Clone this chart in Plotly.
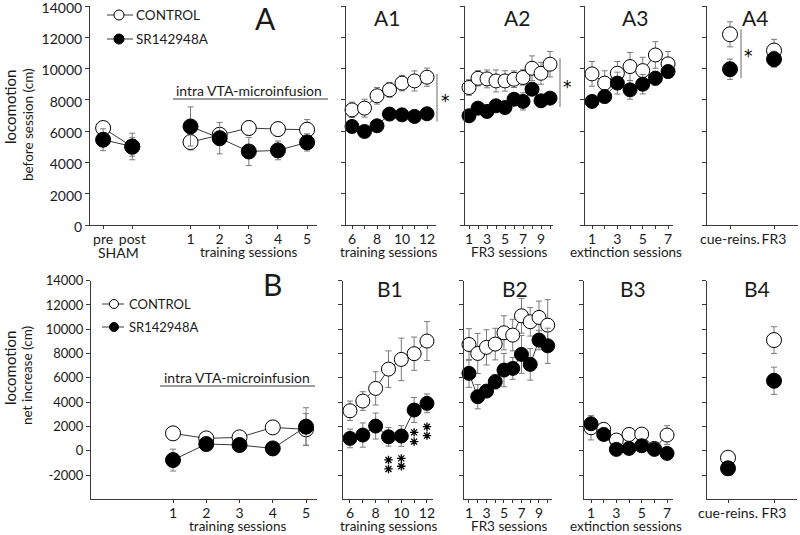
import plotly.graph_objects as go

# ---------------- data ----------------
A_CATS = ["pre", "post", " ", "1", "2", "3", "4", "5"]
SHAM_CATS = ["pre", "post"]
A_TRAIN_CATS = ["1", "2", "3", "4", "5"]
A_CTRL_SHAM = [6200, 5000]
A_CTRL_SHAM_ERR = [350, 600]
A_SR_SHAM = [5450, 5020]
A_SR_SHAM_ERR = [700, 850]
A_CTRL_TRAIN = [5300, 5770, 6200, 6130, 6090]
A_CTRL_TRAIN_ERR = [500, 400, 450, 450, 650]
A_SR_TRAIN = [6300, 5550, 4700, 4770, 5280]
A_SR_TRAIN_ERR = [1250, 1000, 900, 600, 550]

A1_SESS = [6, 7, 8, 9, 10, 11, 12]
A1_CTRL = [7360, 7470, 8260, 8640, 9070, 9210, 9450]
A1_CTRL_ERR = [490, 570, 530, 470, 490, 640, 580]
A1_SR = [6300, 5980, 6340, 7090, 7040, 6940, 7110]
A1_SR_ERR = [250, 300, 250, 250, 250, 350, 250]

A2_SESS = [1, 2, 3, 4, 5, 6, 7, 8, 9, 10]
A2_CTRL = [8790, 9380, 9340, 9210, 9210, 9320, 9430, 10020, 9700, 10280]
A2_CTRL_ERR = [500, 490, 570, 700, 650, 530, 490, 790, 700, 810]
A2_SR = [6980, 7470, 7260, 7620, 7510, 8040, 7900, 8680, 7940, 8110]
A2_SR_ERR = [300, 300, 300, 300, 300, 350, 550, 400, 350, 300]

A3_SESS = [1, 2, 3, 4, 5, 6, 7]
A3_CTRL = [9660, 9070, 9700, 10130, 9870, 10870, 10300]
A3_CTRL_ERR = [790, 790, 750, 900, 850, 850, 790]
A3_SR = [7900, 8210, 9070, 8640, 9000, 9380, 9810]
A3_SR_ERR = [350, 400, 700, 600, 620, 450, 400]

A4_CATS = ["cue-reins.", "FR3"]
A4_CTRL = [12190, 11150]
A4_CTRL_ERR = [800, 720]
A4_SR = [9960, 10600]
A4_SR_ERR = [650, 510]

B_SESS = [1, 2, 3, 4, 5]
B_CTRL = [1430, 1015, 1100, 1920, 1760]
B_CTRL_ERR = [300, 300, 500, 500, 1300]
B_SR = [-770, 550, 470, 190, 1980]
B_SR_ERR = [900, 450, 300, 250, 1560]

B1_SESS = [6, 7, 8, 9, 10, 11, 12]
B1_CTRL = [3290, 4090, 5130, 6720, 7520, 7990, 9030]
B1_CTRL_ERR = [800, 770, 1370, 1500, 1750, 1370, 1600]
B1_SR = [1015, 1290, 2030, 1150, 1210, 3350, 3900]
B1_SR_ERR = [770, 1000, 1070, 770, 850, 1030, 770]
B1_STAR_SESS = [9, 10, 11, 12]
B1_STAR_TOP = [-760, -630, 1510, 1980]
B1_STAR_BOT = [-1500, -1280, 750, 1240]

B2_SESS = [1, 2, 3, 4, 5, 6, 7, 8, 9, 10]
B2_CTRL = [8750, 8010, 8510, 8780, 9710, 9520, 11110, 10620, 10980, 10340]
B2_CTRL_ERR = [1300, 1650, 1450, 1300, 1400, 1300, 1430, 1180, 1340, 2100]
B2_SR = [6370, 4450, 4910, 5680, 6640, 6780, 7930, 7110, 9110, 8640]
B2_SR_ERR = [1150, 1000, 500, 600, 1370, 900, 1560, 1300, 800, 1450]

B3_SESS = [1, 2, 3, 4, 5, 6, 7]
B3_CTRL = [1890, 1760, 880, 1340, 1370, 190, 1290]
B3_CTRL_ERR = [1000, 400, 300, 300, 300, 300, 770]
B3_SR = [2220, 1340, 110, 190, 410, 110, -220]
B3_SR_ERR = [300, 300, 300, 300, 300, 300, 300]

B4_CATS = ["cue-reins.", "FR3"]
B4_CTRL = [-580, 9110]
B4_CTRL_ERR = [200, 1100]
B4_SR = [-1450, 5760]
B4_SR_ERR = [200, 1120]

TOP_YTICKS = [0, 2000, 4000, 6000, 8000, 10000, 12000, 14000]
BOT_YTICKS = [-2000, 0, 2000, 4000, 6000, 8000, 10000, 12000, 14000]

# ---------------- style ----------------
W, H = 800, 535
FONT = "Lato, Carlito, Calibri, sans-serif"
STARFONT = "DejaVu Sans, sans-serif"
AX = "#3a3a3a"
ERR = "#7a7a7a"
LINE = "#3a3a3a"
TXT = "#1a1a1a"


def px(x):
    return x / W


def py(y):
    return 1 - y / H


fig = go.Figure()


def add_pair(ax_i, x, ctrl, ctrl_err, sr, sr_err, size=14, lines=True):
    xa = "x" if ax_i == 1 else f"x{ax_i}"
    ya = "y" if ax_i == 1 else f"y{ax_i}"
    mode = "lines+markers" if lines else "markers"
    fig.add_trace(go.Scatter(
        x=x, y=ctrl, xaxis=xa, yaxis=ya, mode=mode,
        line=dict(color=LINE, width=1),
        marker=dict(size=size, color="white", line=dict(color="black", width=1)),
        error_y=dict(type="data", array=ctrl_err, color=ERR, thickness=1, width=3),
        showlegend=False, cliponaxis=False, hoverinfo="skip"))
    fig.add_trace(go.Scatter(
        x=x, y=sr, xaxis=xa, yaxis=ya, mode=mode,
        line=dict(color=LINE, width=1),
        marker=dict(size=size, color="black", line=dict(color="black", width=1)),
        error_y=dict(type="data", array=sr_err, color=ERR, thickness=1, width=3),
        showlegend=False, cliponaxis=False, hoverinfo="skip"))


add_pair(1, SHAM_CATS, A_CTRL_SHAM, A_CTRL_SHAM_ERR, A_SR_SHAM, A_SR_SHAM_ERR, 15)
add_pair(1, A_TRAIN_CATS, A_CTRL_TRAIN, A_CTRL_TRAIN_ERR, A_SR_TRAIN, A_SR_TRAIN_ERR, 15)
add_pair(2, A1_SESS, A1_CTRL, A1_CTRL_ERR, A1_SR, A1_SR_ERR)
add_pair(3, A2_SESS, A2_CTRL, A2_CTRL_ERR, A2_SR, A2_SR_ERR)
add_pair(4, A3_SESS, A3_CTRL, A3_CTRL_ERR, A3_SR, A3_SR_ERR)
add_pair(5, A4_CATS, A4_CTRL, A4_CTRL_ERR, A4_SR, A4_SR_ERR, 15, lines=False)
add_pair(6, B_SESS, B_CTRL, B_CTRL_ERR, B_SR, B_SR_ERR, 15)
add_pair(7, B1_SESS, B1_CTRL, B1_CTRL_ERR, B1_SR, B1_SR_ERR)
add_pair(8, B2_SESS, B2_CTRL, B2_CTRL_ERR, B2_SR, B2_SR_ERR)
add_pair(9, B3_SESS, B3_CTRL, B3_CTRL_ERR, B3_SR, B3_SR_ERR)
add_pair(10, B4_CATS, B4_CTRL, B4_CTRL_ERR, B4_SR, B4_SR_ERR, 15, lines=False)

# B1 significance stars (two per session)
for ys in (B1_STAR_TOP, B1_STAR_BOT):
    fig.add_trace(go.Scatter(
        x=B1_STAR_SESS, y=ys, xaxis="x7", yaxis="y7", mode="markers",
        marker=dict(symbol="asterisk-open", size=7, color="black",
                    line=dict(color="black", width=1.3)),
        showlegend=False, cliponaxis=False, hoverinfo="skip"))

# ---------------- axes ----------------
TOP_DOM = [py(225), py(6)]
BOT_DOM = [py(499.3), py(280.7)]

panels = [
    # (left px, right px, range, tickvals, ticktext, row, category array)
    (90, 317, [-0.45, 7.34], ["pre", "post", "1", "2", "3", "4", "5"],
     ["pre", "post", "1", "2", "3", "4", "5"], "top", A_CATS),
    (346, 436, [5.52, 12.72], A1_SESS, ["6", "", "8", "", "10", "", "12"], "top", None),
    (465, 553, [0.556, 10.33], A2_SESS, ["1", "", "3", "", "5", "", "7", "", "9", ""], "top", None),
    (585, 673, [0.447, 7.39], A3_SESS, ["1", "", "3", "", "5", "", "7"], "top", None),
    (707, 798, [-0.523, 1.545], A4_CATS, A4_CATS, "top", A4_CATS),
    (91, 317, [-1.466, 5.33], B_SESS, [str(s) for s in B_SESS], "bot", None),
    (343, 433, [5.455, 12.47], B1_SESS, ["6", "", "8", "", "10", "", "12"], "bot", None),
    (464, 552, [0.43, 10.49], B2_SESS, ["1", "", "3", "", "5", "", "7", "", "9", ""], "bot", None),
    (584, 673, [0.447, 7.47], B3_SESS, ["1", "", "3", "", "5", "", "7"], "bot", None),
    (707, 797, [-0.457, 1.5], B4_CATS, B4_CATS, "bot", B4_CATS),
]

layout_axes = {}
for i, (l, r, rng, tv, tt, row, cats) in enumerate(panels, start=1):
    xname = "xaxis" if i == 1 else f"xaxis{i}"
    yname = "yaxis" if i == 1 else f"yaxis{i}"
    yref = "y" if i == 1 else f"y{i}"
    xref = "x" if i == 1 else f"x{i}"
    xa = dict(domain=[px(l), px(r)], range=rng, anchor=yref, automargin=False,
              showline=True, linecolor=AX, linewidth=1, mirror=False,
              ticks="outside", ticklen=3, tickcolor=AX, tickwidth=1,
              tickmode="array", tickvals=tv, ticktext=tt, tickangle=0,
              ticklabeloverflow="allow", ticklabelstandoff=-2,
              showgrid=False, zeroline=False,
              tickfont=dict(family=FONT, size=14, color=TXT))
    if cats is not None:
        xa.update(type="category", categoryorder="array", categoryarray=cats)
    layout_axes[xname] = xa
    if row == "top":
        ya = dict(domain=TOP_DOM, range=[0, 14000], tickvals=TOP_YTICKS,
                  ticktext=[str(v) for v in TOP_YTICKS], ticklabelshift=2)
    else:
        ya = dict(domain=BOT_DOM, range=[-4000, 14000], tickvals=BOT_YTICKS,
                  ticktext=[str(v) for v in BOT_YTICKS])
    ya.update(anchor=xref, showline=True, linecolor=AX, linewidth=1, automargin=False,
              ticks="outside", ticklen=4, tickcolor=AX, tickwidth=1,
              showgrid=False, zeroline=False, tickmode="array",
              ticklabeloverflow="allow",
              showticklabels=(i in (1, 6)),
              tickfont=dict(family=FONT, size=14 if row == "top" else 13, color=TXT))
    layout_axes[yname] = ya

fig.update_layout(**layout_axes)

# ---------------- annotations / shapes ----------------
ann = []
shapes = []


def txt(x, y, s, size=14, xanchor="center", yanchor="middle", angle=0, **kw):
    ann.append(dict(x=px(x), y=py(y), xref="paper", yref="paper", text=s, showarrow=False,
                    xanchor=xanchor, yanchor=yanchor, textangle=angle,
                    font=dict(family=FONT, size=size, color=TXT), **kw))


# panel titles
txt(265, 18, "A", 30)
txt(387, 18, "A1", 21)
txt(517, 18, "A2", 21)
txt(635, 18, "A3", 21)
txt(755, 18, "A4", 21)
txt(272, 284, "B", 30)
txt(390, 288, "B1", 21)
txt(515, 288, "B2", 21)
txt(633, 288, "B3", 21)
txt(757, 288, "B4", 21)

# y titles
txt(10, 107, "locomotion", 15, angle=-90)
txt(28, 125, "before session (cm)", 13.5, angle=-90)
txt(10, 368, "locomotion", 15, angle=-90)
txt(27, 376, "net increase (cm)", 13.5, angle=-90)

# x titles
txt(118, 252, "SHAM", 14)
txt(248, 252, "training sessions", 13.5)
txt(388, 252, "training sessions", 13.5)
txt(509, 252, "FR3 sessions", 13.5)
txt(626, 252, "extinction sessions", 13.5)
txt(237, 526, "training sessions", 13.5)
txt(388, 526, "training sessions", 13.5)
txt(509, 526, "FR3 sessions", 13.5)
txt(626, 526, "extinction sessions", 13.5)

# intra VTA-microinfusion
txt(249, 90, "intra VTA-microinfusion", 14)
shapes.append(dict(type="line", xref="paper", yref="paper", x0=px(173), x1=px(328),
                   y0=py(99), y1=py(99), line=dict(color=AX, width=1)))
txt(237, 377, "intra VTA-microinfusion", 14)
shapes.append(dict(type="line", xref="paper", yref="paper", x0=px(160), x1=px(315),
                   y0=py(386), y1=py(386), line=dict(color=AX, width=1)))


# legends
def legend(x_line0, x_line1, xc, ytop, ybot, xtext, size, fs):
    for yy, fill, label in ((ytop, "white", "CONTROL"), (ybot, "black", "SR142948A")):
        shapes.append(dict(type="line", xref="paper", yref="paper", x0=px(x_line0), x1=px(x_line1),
                           y0=py(yy), y1=py(yy), line=dict(color=AX, width=1)))
        shapes.append(dict(type="circle", xref="paper", yref="paper", xsizemode="pixel",
                           ysizemode="pixel", xanchor=px(xc), yanchor=py(yy),
                           x0=-size / 2, x1=size / 2, y0=-size / 2, y1=size / 2,
                           fillcolor=fill, line=dict(color="black", width=1)))
        txt(xtext, yy, label, fs, xanchor="left")


legend(107, 133, 119, 15, 39, 134, 10, 13.5)
legend(102, 124, 114, 304, 327, 127, 9, 13)

# significance marks (A panels)
for xline, yref, y0, y1, xs, ys in ((437, "y2", 6620, 9660, 445, 8150),
                                     (560, "y3", 7530, 10660, 567, 9000),
                                     (741, "y5", 9380, 12510, 748, 10980)):
    shapes.append(dict(type="line", xref="paper", yref=yref, x0=px(xline), x1=px(xline),
                       y0=y0, y1=y1, line=dict(color="#6a6a6a", width=1)))
    ann.append(dict(x=px(xs), y=ys, xref="paper", yref=yref, text="*", showarrow=False,
                    xanchor="center", yanchor="middle", yshift=-3,
                    font=dict(family=STARFONT, size=17, color="black")))

fig.update_layout(
    width=W, height=H, margin=dict(l=0, r=0, t=0, b=0, autoexpand=False),
    paper_bgcolor="white", plot_bgcolor="white",
    annotations=ann, shapes=shapes, showlegend=False, hovermode=False,
    font=dict(family=FONT, size=14, color=TXT),
)

fig.write_html("out.html", config={"displayModeBar": False},
               post_script="document.body.style.margin='0px';")
